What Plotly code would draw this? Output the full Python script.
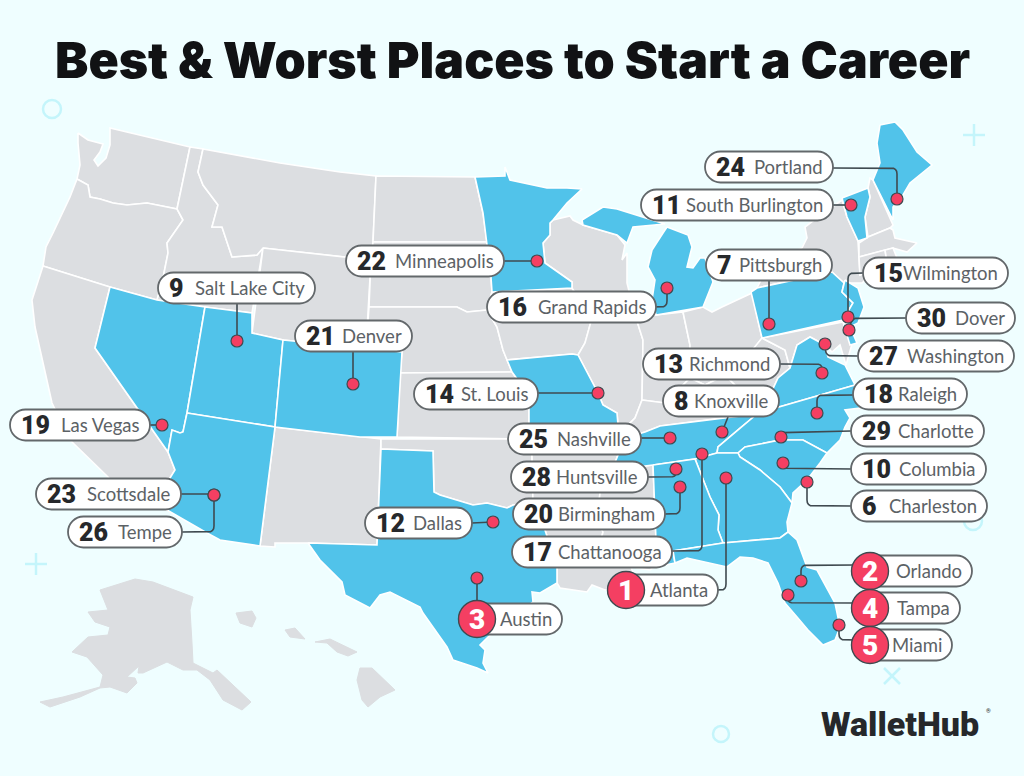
import plotly.graph_objects as go

# Colours
BG = '#EFFEFF'
GREY = '#DCDEE1'
BLUE = '#51C3EA'
RED = '#F43F62'
LINE = '#3F4A50'
PILL_LINE = '#63686B'
TEXT = '#5C6266'
DARK = '#26282B'
DECOR = '#C4F5FB'

# ---------------------------------------------------------------------------------------------
# State outlines (x, y in picture pixels)
WA = [(78,133),(88,140),(103,144),(100,152),(94,160),(98,166),(106,158),(110,145),(110,128),(190,147),(177,209),(147,203),(127,205),(113,203),(100,199),(90,197),(88,185),(77,179),(80,165),(78,143)]
OR = [(77,179),(88,185),(90,197),(100,199),(113,203),(127,205),(147,203),(177,209),(183,220),(167,243),(168,253),(162,283),(157,300),(110,287),(43,266),(46,247),(53,233),(70,197)]
CA = [(43,266),(110,287),(95,348),(168,452),(175,470),(170,478),(167,510),(135,507),(108,477),(87,457),(70,440),(52,403),(45,373),(35,327),(32,300)]
NV = [(110,287),(157,300),(205,307),(187,413),(183,432),(180,433),(172,430),(168,452),(95,348)]
ID = [(190,147),(203,149),(198,172),(203,185),(218,205),(212,227),(222,227),(232,257),(257,255),(263,248),(252,313),(205,307),(157,300),(162,283),(168,253),(167,243),(183,220),(177,209)]
MT = [(203,149),(280,163),(340,172),(376,176),(373,242),(371,260),(345,257),(263,248),(257,255),(232,257),(222,227),(212,227),(218,205),(203,185),(198,172)]
WY = [(263,248),(345,257),(371,260),(366,348),(283,340),(252,333)]
UT = [(205,307),(252,313),(252,333),(283,340),(275,427),(187,413)]
CO = [(283,340),(366,348),(402,352),(397,437),(360,437),(275,427)]
AZ = [(187,413),(275,427),(260,546),(220,540),(207,533),(167,510),(170,478),(175,470),(168,452),(172,430),(180,433),(183,432)]
NM = [(275,427),(360,437),(381,439),(377,545),(308,543),(275,543),(275,547),(260,546)]
ND = [(376,176),(475,177),(483,213),(487,242),(373,242)]
SD = [(373,242),(487,242),(491,277),(492,292),(487,310),(467,312),(457,307),(369,307),(371,260)]
NE = [(369,307),(457,307),(467,312),(487,310),(497,327),(503,350),(512,372),(400,373),(402,352),(366,348)]
KS = [(400,373),(512,372),(529,395),(529,439),(397,437)]
OK = [(381,439),(529,439),(532,455),(533,505),(513,505),(507,508),(487,503),(473,505),(440,495),(434,492),(433,451),(381,449)]
TX = [(381,449),(433,451),(434,492),(440,495),(473,505),(487,503),(507,508),(513,505),(533,505),(545,512),(545,530),(557,567),(557,583),(540,593),(532,592),(533,602),(488,637),(480,645),(485,650),(483,663),(488,673),(477,668),(453,660),(447,647),(423,613),(420,607),(390,592),(380,595),(370,608),(345,595),(342,582),(320,560),(308,543),(377,545)]
MN = [(475,177),(505,176),(505,167),(510,180),(547,188),(567,188),(582,189),(567,203),(553,220),(550,223),(550,235),(543,243),(545,263),(572,282),(572,288),(492,292),(491,277),(487,242),(483,213)]
IA = [(492,292),(572,288),(583,305),(592,318),(585,343),(578,355),(572,354),(507,360),(503,350),(497,327),(487,310)]
MO = [(507,360),(572,354),(578,355),(592,382),(598,393),(603,405),(617,413),(618,425),(620,442),(610,445),(610,439),(529,439),(529,395),(512,372)]
AR = [(529,439),(610,439),(610,445),(618,455),(610,480),(600,493),(597,520),(545,522),(545,512),(533,505),(532,455)]
LA = [(545,522),(597,520),(603,532),(597,555),(628,555),(632,570),(640,585),(605,590),(592,585),(587,592),(560,588),(557,583),(557,567),(545,530)]
WI = [(553,220),(570,216),(573,220),(583,225),(617,235),(625,245),(622,260),(627,253),(627,283),(632,303),(583,305),(572,288),(572,282),(545,263),(543,243),(550,235),(550,223)]
IL = [(583,305),(632,303),(636,318),(643,340),(642,400),(635,418),(625,428),(618,425),(617,413),(603,405),(598,393),(592,382),(578,355),(585,343),(592,318)]
MI_UP = [(582,220),(603,207),(617,209),(642,217),(665,224),(633,227),(627,243),(617,235),(583,225)]
MI_LP = [(667,227),(688,235),(692,247),(687,267),(693,268),(700,258),(705,258),(713,282),(703,307),(656,315),(652,300),(655,280),(648,267),(652,250),(663,233)]
IN = [(636,318),(656,315),(683,312),(690,345),(690,378),(665,403),(642,400),(643,340)]
OH = [(683,312),(703,307),(712,312),(722,307),(752,293),(762,338),(757,345),(740,365),(725,375),(705,385),(690,378),(690,345)]
KY = [(642,400),(665,403),(690,378),(705,385),(725,375),(735,385),(745,405),(737,416),(660,426),(645,432),(618,440),(618,425),(625,428),(635,418)]
WV = [(762,338),(785,350),(790,368),(778,378),(770,395),(745,405),(735,385),(725,375),(740,365),(757,345)]
MD = [(762,338),(843,322),(852,344),(846,365),(840,345),(832,352),(825,345),(810,337),(797,345),(790,368),(785,350)]
VA = [(778,378),(790,368),(797,345),(810,337),(825,345),(828,357),(845,365),(855,385),(779,407),(737,416),(745,405),(770,395)]
TN = [(618,440),(645,432),(660,426),(737,416),(757,414),(740,428),(718,447),(717,453),(695,459),(653,465),(612,470),(618,455)]
NC = [(757,414),(779,407),(855,385),(860,408),(845,410),(850,418),(845,427),(840,440),(827,453),(803,440),(780,440),(745,447),(738,453),(717,453),(718,447),(740,428)]
SC = [(738,453),(745,447),(780,440),(803,440),(827,453),(820,463),(807,480),(793,493),(792,503),(780,487),(760,470),(740,457)]
GA = [(695,459),(717,453),(738,453),(740,457),(760,470),(780,487),(792,503),(787,522),(788,532),(780,538),(723,543),(718,530),(719,515),(710,497)]
AL = [(653,465),(695,459),(710,497),(719,515),(718,530),(723,543),(673,551),(675,563),(665,565),(657,565)]
MS = [(612,470),(653,465),(657,565),(650,570),(637,568),(628,555),(597,555),(603,532),(597,520),(600,493),(610,480),(618,455)]
FL = [(673,551),(723,543),(780,538),(788,532),(797,540),(807,567),(817,570),(835,603),(840,627),(835,640),(823,645),(808,630),(797,617),(785,603),(778,583),(768,563),(753,558),(740,557),(727,567),(710,563),(687,558),(675,563)]
PA = [(751,292),(757,288),(832,272),(844,283),(842,292),(853,303),(843,320),(762,338)]
NY = [(757,288),(770,262),(802,248),(807,238),(805,227),(818,217),(842,200),(847,217),(858,241),(859,257),(860,275),(876,270),(862,283),(848,283),(844,283),(832,272)]
NJ = [(845,280),(858,288),(864,307),(858,323),(850,327),(843,320),(853,303),(842,292)]
DE = [(843,322),(850,327),(857,343),(850,345)]
VT = [(842,198),(868,188),(870,197),(865,217),(867,238),(858,241),(847,217)]
NH = [(868,188),(870,178),(873,180),(893,225),(890,228),(868,237),(865,217),(870,197)]
ME = [(880,125),(895,122),(903,130),(917,152),(932,165),(910,183),(903,195),(893,207),(893,220),(873,180),(880,163),(877,143)]
MA = [(859,243),(868,237),(890,228),(893,230),(895,238),(917,243),(907,252),(893,248),(859,257)]
CT = [(859,257),(885,250),(887,262),(860,275)]
RI = [(885,250),(893,248),(897,258),(887,262)]
AK = [(40,702),(50,707),(80,697),(100,688),(110,687),(127,693),(137,683),(135,678),(127,677),(139,666),(138,673),(143,673),(167,662),(183,670),(197,670),(210,680),(223,700),(242,710),(251,702),(217,670),(213,673),(193,663),(192,643),(190,610),(193,597),(180,592),(153,582),(135,579),(100,590),(108,610),(88,612),(95,622),(110,627),(108,635),(88,637),(72,652),(87,657),(103,675),(100,687),(63,697)]
HI_KAUAI = [(236,613),(252,611),(256,618),(252,627),(240,623)]
HI_OAHU = [(285,630),(295,628),(305,639),(290,637)]
HI_MAUI = [(315,642),(330,639),(357,652),(348,656),(337,652),(327,643)]
HI_BIG = [(360,668),(372,668),(395,690),(380,697),(368,707),(362,700),(357,680)]

GREY_STATES = [WA, OR, CA, ID, MT, WY, NM, ND, SD, NE, KS, OK, IA, AR, LA, WI, IL, IN, OH, KY, WV, MD, MS, NY, NH, MA, CT, RI]
BLUE_STATES = [NV, UT, CO, AZ, TX, MN, MO, MI_UP, MI_LP, VA, TN, NC, SC, GA, AL, FL, PA, NJ, DE, VT, ME]
ISLANDS = [AK, HI_KAUAI, HI_OAHU, HI_MAUI, HI_BIG]

# ---------------------------------------------------------------------------------------------
# Cities: rank, name, dot, label pill
RANKS = [24, 11, 22, 7, 15, 16, 9, 21, 30, 27, 13, 14, 18, 8, 19, 25, 29, 10, 28, 23, 6, 20, 12, 26, 17, 1, 2, 4, 5, 3]
CITIES = ['Portland', 'South Burlington', 'Minneapolis', 'Pittsburgh', 'Wilmington', 'Grand Rapids', 'Salt Lake City', 'Denver', 'Dover', 'Washington',
          'Richmond', 'St. Louis', 'Raleigh', 'Knoxville', 'Las Vegas', 'Nashville', 'Charlotte', 'Columbia', 'Huntsville', 'Scottsdale',
          'Charleston', 'Birmingham', 'Dallas', 'Tempe', 'Chattanooga', 'Atlanta', 'Orlando', 'Tampa', 'Miami', 'Austin']
DOT_X = [897, 851, 537, 769, 848, 667, 237, 353, 849, 825, 822, 598, 817, 722, 162, 670, 781, 783, 676, 214, 807, 680, 493, 214, 702, 726, 801, 788, 839, 477]
DOT_Y = [199, 205, 261, 324, 317, 288, 341, 384, 330, 344, 373, 393, 413, 432, 425, 438, 437, 463, 469, 495, 482, 487, 522, 495, 454, 478, 581, 595, 625, 578]
PILL_LEFT = [705, 641, 346, 706, 863, 487, 158, 295, 906, 858, 643, 414, 853, 663, 10, 508, 851, 851, 511, 36, 851, 513, 365, 68, 512, 608, 852, 852, 852, 459]
PILL_RIGHT = [833, 833, 504, 832, 1008, 656, 315, 412, 1015, 1014, 780, 538, 967, 779, 150, 641, 984, 986, 648, 181, 987, 665, 472, 182, 672, 718, 972, 960, 952, 562]
PILL_Y = [167, 205, 261, 265, 273, 307, 288, 336, 318, 356, 364, 394, 394, 401, 425, 439, 431, 469, 477, 494, 506, 514, 523, 532, 552, 590, 571, 608, 645, 619]

# Leader lines from pill edge to dot, with elbows
ROUTES = [
    [(833,168),(897,168),(897,199)], [(833,205),(851,205)], [(504,261),(537,261)], [(769,280),(769,324)],
    [(863,273),(848,273),(848,317)], [(653,307),(667,307),(667,288)], [(237,303),(237,341)], [(353,350),(353,384)],
    [(906,318),(852,318),(849,330)], [(858,356),(826,356),(825,344)], [(780,364),(822,364),(822,373)], [(538,393),(598,393)],
    [(853,395),(817,395),(817,413)], [(728,417),(722,432)], [(150,425),(162,425)], [(641,438),(670,438)],
    [(851,431),(781,432),(781,437)], [(851,469),(783,469),(783,463)], [(648,477),(676,477),(676,469)], [(181,494),(214,494)],
    [(851,506),(807,506),(807,482)], [(665,514),(680,514),(680,487)], [(472,523),(493,522)], [(182,532),(214,532),(214,495)],
    [(672,551),(702,551),(702,454)], [(716,590),(726,590),(726,478)], [(855,565),(801,565),(801,581)], [(855,603),(788,603),(788,595)],
    [(855,640),(839,640),(839,625)], [(477,600),(477,578)],
]


def rounded_route(pts, r=6):
    # Cut each elbow with a short curve so the leader lines look bent, not kinked
    xs, ys = [pts[0][0]], [pts[0][1]]
    for i in range(1, len(pts) - 1):
        (x0, y0), (x1, y1), (x2, y2) = pts[i - 1], pts[i], pts[i + 1]
        d1 = max(abs(x1 - x0), abs(y1 - y0))
        d2 = max(abs(x2 - x1), abs(y2 - y1))
        a = min(r, d1 / 2) / d1
        b = min(r, d2 / 2) / d2
        ax, ay = x1 + (x0 - x1) * a, y1 + (y0 - y1) * a
        bx, by = x1 + (x2 - x1) * b, y1 + (y2 - y1) * b
        for t in (0, 0.25, 0.5, 0.75, 1):
            xs.append((1 - t) ** 2 * ax + 2 * t * (1 - t) * x1 + t ** 2 * bx)
            ys.append((1 - t) ** 2 * ay + 2 * t * (1 - t) * y1 + t ** 2 * by)
    xs.append(pts[-1][0])
    ys.append(pts[-1][1])
    return xs, ys


def pill_path(x0, x1, yc, h=31):
    r = h / 2
    k = r * 0.5523  # control offset for a quarter circle
    top, bot = yc - r, yc + r
    return (f'M {x0 + r} {top} L {x1 - r} {top} '
            f'C {x1 - r + k} {top} {x1} {yc - k} {x1} {yc} '
            f'C {x1} {yc + k} {x1 - r + k} {bot} {x1 - r} {bot} '
            f'L {x0 + r} {bot} '
            f'C {x0 + r - k} {bot} {x0} {yc + k} {x0} {yc} '
            f'C {x0} {yc - k} {x0 + r - k} {top} {x0 + r} {top} Z')


fig = go.Figure()

# Map
for poly in GREY_STATES + BLUE_STATES:
    fig.add_trace(go.Scatter(x=[p[0] for p in poly] + [poly[0][0]], y=[p[1] for p in poly] + [poly[0][1]],
                             mode='lines', fill='toself', fillcolor=BLUE if poly in BLUE_STATES else GREY,
                             line=dict(color='white', width=1.6), hoverinfo='skip', showlegend=False))
for poly in ISLANDS:
    fig.add_trace(go.Scatter(x=[p[0] for p in poly] + [poly[0][0]], y=[p[1] for p in poly] + [poly[0][1]],
                             mode='lines', fill='toself', fillcolor=GREY,
                             line=dict(color=GREY, width=1), hoverinfo='skip', showlegend=False))

# Leader lines and dots
for route in ROUTES:
    xs, ys = rounded_route(route)
    fig.add_trace(go.Scatter(x=xs, y=ys, mode='lines', line=dict(color=LINE, width=1.6),
                             hoverinfo='skip', showlegend=False))
fig.add_trace(go.Scatter(x=DOT_X, y=DOT_Y, mode='markers', text=CITIES, hoverinfo='text',
                         marker=dict(size=12, color=RED, line=dict(color=LINE, width=1.2)), showlegend=False))

# Pills, badges and their text
shapes = []
annotations = []
for rank, name, x0, x1, yc in zip(RANKS, CITIES, PILL_LEFT, PILL_RIGHT, PILL_Y):
    shapes.append(dict(type='path', path=pill_path(x0, x1, yc), fillcolor='white',
                       line=dict(color=PILL_LINE, width=1.8), layer='above'))
    annotations.append(dict(x=x1 - 8, y=yc - 0.5, text=name, xanchor='right', yanchor='middle', showarrow=False,
                            font=dict(family='Lato', size=18.5, color=TEXT)))
    if rank > 5:
        annotations.append(dict(x=x0 + 9, y=yc, text=str(rank), xanchor='left', yanchor='middle', showarrow=False,
                                font=dict(family='Roboto', size=25, color=DARK, weight=900)))
for rank, x0, yc in zip(RANKS, PILL_LEFT, PILL_Y):
    if rank <= 5:
        cx = x0 + 18
        shapes.append(dict(type='circle', x0=cx - 18.5, x1=cx + 18.5, y0=yc - 18.5, y1=yc + 18.5, fillcolor=RED,
                           line=dict(color=LINE, width=1.4), layer='above'))
        annotations.append(dict(x=cx, y=yc, text=str(rank), xanchor='center', yanchor='middle', showarrow=False,
                                font=dict(family='Roboto', size=28, color='white', weight=900)))

# Background decoration
for cx, cy, r in [(52, 109, 9), (721, 734, 8), (973, 521, 9)]:
    shapes.append(dict(type='circle', x0=cx - r, x1=cx + r, y0=cy - r, y1=cy + r, line=dict(color=DECOR, width=2.5), layer='below'))
for cx, cy, r in [(974, 135, 11), (36, 564, 11)]:
    shapes.append(dict(type='line', x0=cx - r, x1=cx + r, y0=cy, y1=cy, line=dict(color=DECOR, width=2.5), layer='below'))
    shapes.append(dict(type='line', x0=cx, x1=cx, y0=cy - r, y1=cy + r, line=dict(color=DECOR, width=2.5), layer='below'))
shapes.append(dict(type='line', x0=884, x1=900, y0=668, y1=684, line=dict(color=DECOR, width=2.5), layer='below'))
shapes.append(dict(type='line', x0=884, x1=900, y0=684, y1=668, line=dict(color=DECOR, width=2.5), layer='below'))

annotations.append(dict(x=512, y=60, text='Best &amp; Worst Places to Start a Career', xanchor='center', yanchor='middle', showarrow=False,
                        font=dict(family='Inter', size=50, color='#111214', weight=900)))
annotations.append(dict(x=900, y=724, text='WalletHub', xanchor='center', yanchor='middle', showarrow=False,
                        font=dict(family='Roboto', size=34, color=DARK, weight=900)))
annotations.append(dict(x=988, y=710, text='®', xanchor='center', yanchor='middle', showarrow=False,
                        font=dict(family='Roboto', size=6, color=DARK)))

fig.update_layout(
    width=1024, height=776,
    margin=dict(l=0, r=0, t=0, b=0),
    paper_bgcolor=BG, plot_bgcolor=BG,
    shapes=shapes, annotations=annotations,
    xaxis=dict(range=[0, 1024], visible=False, fixedrange=True),
    yaxis=dict(range=[776, 0], visible=False, fixedrange=True),
)

fig.write_html("out.html", config={'displayModeBar': False},
               post_script="document.body.style.margin='0';document.body.style.background='" + BG + "';")
